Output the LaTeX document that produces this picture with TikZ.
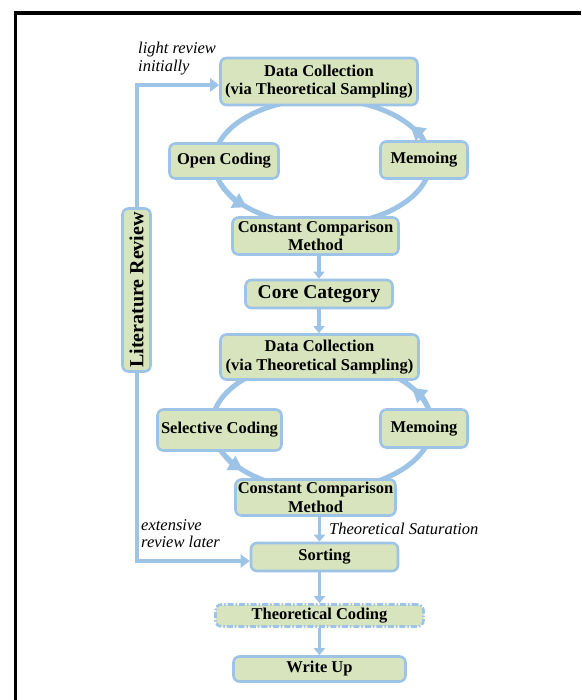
\documentclass[tikz,border=0pt]{standalone}
\usepackage{fontspec}
\setmainfont{Liberation Serif}
\usetikzlibrary{arrows.meta,backgrounds}
\definecolor{bgreen}{HTML}{D7E4BD}
\definecolor{bblue}{HTML}{9DC3E6}
\begin{document}
\begin{tikzpicture}[x=1pt,y=-1pt,
 box/.style={draw=bblue, fill=bgreen, line width=2.6pt, rounded corners=6pt, align=center, inner sep=1pt, font=\bfseries\fontsize{16.5}{18.5}\selectfont},
 bigbox/.style={box, font=\bfseries\fontsize{19.5}{22}\selectfont},
 flow/.style={draw=bblue, line width=3.5pt, -{Triangle[length=7pt,width=11pt]}},
 lit/.style={draw=bblue, line width=4pt, -{Triangle[length=9pt,width=13pt]}},
 loopline/.style={draw=bblue, line width=5pt},
 looptip/.style={draw=bblue, line width=5pt, -{Triangle[length=14pt,width=16pt]}},
 note/.style={font=\itshape\fontsize{16.5}{17.5}\selectfont, align=left, inner sep=0pt, anchor=north west}
]
\useasboundingbox (0,0) rectangle (581,700);
\draw[line width=3.5pt] (15.5,700) -- (15.5,13) -- (581,13);

% nodes
\node[box, minimum width=197pt, minimum height=47pt] (DC1) at (319,81.5) {Data Collection\\(via Theoretical Sampling)};
\node[box, minimum width=109pt, minimum height=35pt] (OC) at (224,161) {Open Coding};
\node[box, minimum width=87pt, minimum height=37pt] (M1) at (424,160) {Memoing};
\node[box, minimum width=166pt, minimum height=37pt] (CCM1) at (315.5,236) {Constant Comparison\\Method};
\node[bigbox, minimum width=147pt, minimum height=28pt] (Core) at (319,294) {Core Category};
\node[box, minimum width=198pt, minimum height=45pt] (DC2) at (319.5,357) {Data Collection\\(via Theoretical Sampling)};
\node[box, minimum width=124pt, minimum height=41pt] (SC) at (219.5,430) {Selective Coding};
\node[box, minimum width=87pt, minimum height=38pt] (M2) at (424,428.5) {Memoing};
\node[box, minimum width=160pt, minimum height=36pt] (CCM2) at (315.5,497.5) {Constant Comparison\\Method};
\node[box, minimum width=147pt, minimum height=28pt] (Sort) at (324.5,557) {Sorting};
\node[box, dash pattern=on 6pt off 2pt on 1.5pt off 2pt, minimum width=208pt, minimum height=22pt] (TC) at (319.5,615.5) {Theoretical Coding};
\node[box, minimum width=172pt, minimum height=25pt] (WU) at (319.5,669) {Write Up};
\node[bigbox, rotate=90, minimum width=163pt, minimum height=28pt, font=\bfseries\fontsize{20}{22}\selectfont] (LR) at (136.5,290) {Literature Review};

% notes
\node[note] (lri) at (138,42) {light review\\initially};
\node[note] (erl) at (141,519) {extensive\\review later};
\node[note] (ts) at (329,523) {Theoretical Saturation};

% loops
\begin{scope}[on background layer]
\coordinate (c1) at (322,162);
\coordinate (c2) at (322,425);
\draw[loopline] (c1) ellipse [x radius=108, y radius=63];
\draw[looptip] (c1) ++(160:108 and 63) arc[start angle=160, end angle=134, x radius=108, y radius=63];
\draw[looptip] (c1) ++(350:108 and 63) arc[start angle=350, end angle=325, x radius=108, y radius=63];
\draw[loopline] (c2) ellipse [x radius=110, y radius=65];
\draw[looptip] (c2) ++(160:110 and 65) arc[start angle=160, end angle=136, x radius=110, y radius=65];
\draw[looptip] (c2) ++(350:110 and 65) arc[start angle=350, end angle=325, x radius=110, y radius=65];
\end{scope}

% literature review lines
\coordinate (lt) at (136.5,85);
\coordinate (lb) at (136.5,561);
\draw[lit] (LR.east) -- (LR.east |- lt) -- (DC1.west |- lt);
\draw[lit] (LR.west) -- (LR.west |- lb) -- (Sort.west |- lb);

% flow arrows
\draw[flow] (Core.north |- CCM1.south) -- (Core.north);
\draw[flow] (Core.south) -- (DC2.north -| Core.south);
\draw[flow] (CCM2.south -| TC.north) -- (Sort.north -| TC.north);
\draw[flow] (Sort.south -| TC.north) -- (TC.north);
\draw[flow] (TC.south) -- (WU.north);
\end{tikzpicture}
\end{document}
